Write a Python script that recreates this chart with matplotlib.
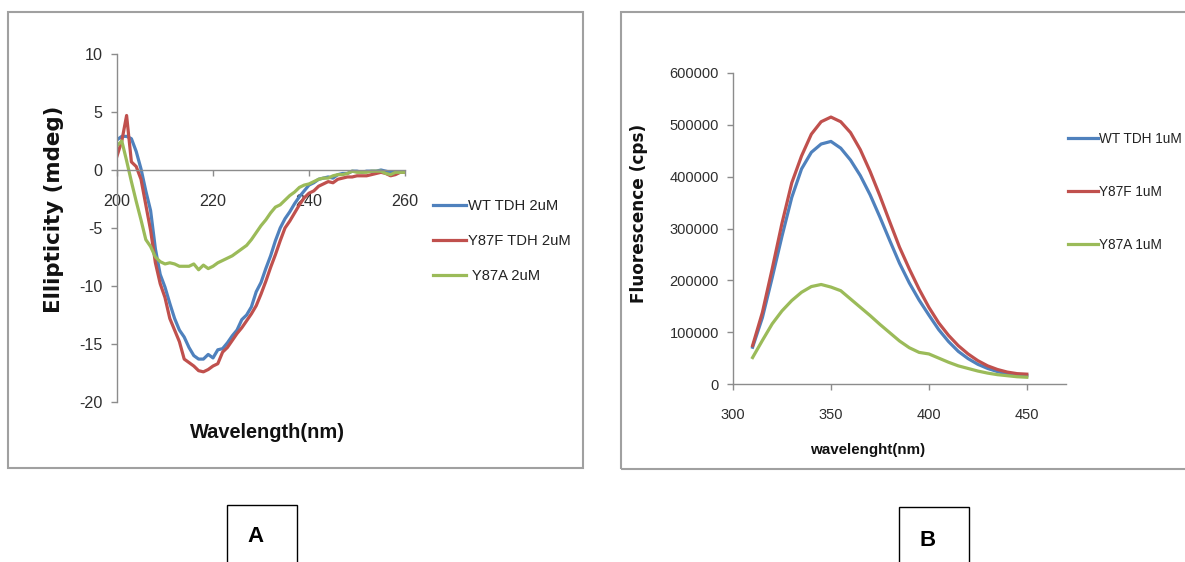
import matplotlib
matplotlib.use("Agg")
import matplotlib.pyplot as plt
from matplotlib.patches import Rectangle

plt.rcParams["axes.unicode_minus"] = False

# ---------------- data: panel A (CD spectra) ----------------
cd_wavelength = list(range(200, 261))
cd_wt = [2.6, 2.9, 2.9, 2.7, 1.6, 0.1, -1.8, -3.5, -6.8, -9.0,
         -10.1, -11.5, -12.8, -13.8, -14.4, -15.3, -16.0, -16.3, -16.3, -15.9,
         -16.2, -15.5, -15.4, -14.9, -14.3, -13.8, -12.9, -12.5, -11.8, -10.5,
         -9.7, -8.5, -7.4, -6.1, -5.0, -4.2, -3.6, -2.9, -2.3, -1.8,
         -1.3, -1.1, -0.8, -0.7, -0.6, -0.7, -0.4, -0.3, -0.3, -0.1,
         -0.1, -0.2, -0.1, -0.1, -0.1, 0.0, -0.1, -0.2, -0.2, -0.2, -0.2]
cd_y87f = [1.2, 2.5, 4.7, 0.7, 0.3, -0.8, -3.0, -5.2, -8.0, -9.8,
           -11.0, -12.8, -13.8, -14.8, -16.3, -16.6, -16.9, -17.3, -17.4, -17.2,
           -16.9, -16.7, -15.7, -15.3, -14.7, -14.1, -13.6, -13.0, -12.4, -11.7,
           -10.7, -9.6, -8.4, -7.3, -6.1, -5.0, -4.4, -3.7, -3.0, -2.4,
           -2.0, -1.8, -1.4, -1.2, -1.0, -1.1, -0.8, -0.7, -0.6, -0.6,
           -0.5, -0.5, -0.5, -0.4, -0.3, -0.2, -0.3, -0.5, -0.4, -0.2, -0.2]
cd_y87a = [2.1, 2.5, 0.8, -1.0, -2.7, -4.3, -6.0, -6.6, -7.5, -7.9,
           -8.1, -8.0, -8.1, -8.3, -8.3, -8.3, -8.1, -8.6, -8.2, -8.5,
           -8.3, -8.0, -7.8, -7.6, -7.4, -7.1, -6.8, -6.5, -6.0, -5.4,
           -4.8, -4.3, -3.7, -3.2, -3.0, -2.6, -2.2, -1.9, -1.5, -1.3,
           -1.2, -1.0, -0.8, -0.7, -0.7, -0.5, -0.4, -0.4, -0.3, -0.1,
           -0.2, -0.2, -0.2, -0.1, -0.1, -0.1, -0.3, -0.4, -0.2, -0.2, -0.2]
cd_labels = ["WT TDH 2uM", "Y87F TDH 2uM", " Y87A 2uM"]
cd_xticks = [200, 220, 240, 260]
cd_yticks = [-20, -15, -10, -5, 0, 5, 10]

# ---------------- data: panel B (fluorescence) ----------------
fl_wavelength = [310, 315, 320, 325, 330, 335, 340, 345, 350, 355,
                 360, 365, 370, 375, 380, 385, 390, 395, 400, 405,
                 410, 415, 420, 425, 430, 435, 440, 445, 450]
fl_wt = [71000, 128000, 205000, 285000, 360000, 415000, 447000, 463000, 468000, 455000,
         432000, 402000, 365000, 322000, 277000, 233000, 195000, 162000, 133000, 105000,
         82000, 63000, 49000, 38000, 30000, 24000, 19000, 17000, 16000]
fl_y87f = [74000, 138000, 222000, 310000, 388000, 440000, 482000, 506000, 515000, 506000,
           485000, 452000, 410000, 363000, 313000, 264000, 222000, 183000, 148000, 118000,
           94000, 74000, 58000, 45000, 35000, 28000, 23000, 20000, 19000]
fl_y87a = [51000, 84000, 116000, 141000, 161000, 177000, 188000, 192000, 187000, 180000,
           164000, 148000, 132000, 115000, 99000, 83000, 70000, 61000, 58000, 50000,
           42000, 35000, 30000, 25000, 21000, 18000, 16000, 14000, 13000]
fl_labels = ["WT TDH 1uM", "Y87F 1uM", "Y87A 1uM"]
fl_xticks = [300, 350, 400, 450]
fl_yticks = [0, 100000, 200000, 300000, 400000, 500000, 600000]

colors = ["#4F81BD", "#C0504D", "#9BBB59"]

W, H = 1185, 562
fig = plt.figure(figsize=(W / 100, H / 100), dpi=100)
fig.patch.set_facecolor("white")

tick_col = "#2e2e2e"
spine_col = "#8c8c8c"
sans = ["Liberation Sans", "DejaVu Sans"]


def fx(px):
    return px / W


def fy(py):
    return 1 - py / H


# ---------------- panel A ----------------
axA = fig.add_axes([fx(117), fy(402), (405 - 117) / W, (402 - 54) / H])
for vals, c, lab in zip([cd_wt, cd_y87f, cd_y87a], colors, cd_labels):
    axA.plot(cd_wavelength, vals, color=c, lw=2.3, label=lab, solid_joinstyle="round")
axA.set_xlim(200, 260)
axA.set_ylim(-20, 10)
axA.set_xticks(cd_xticks)
axA.set_yticks(cd_yticks)
axA.spines["top"].set_visible(False)
axA.spines["right"].set_visible(False)
axA.spines["bottom"].set_position(("data", 0))
for s in ("left", "bottom"):
    axA.spines[s].set_color(spine_col)
    axA.spines[s].set_linewidth(1.0)
axA.tick_params(axis="both", direction="out", length=4, width=1.0, color=spine_col,
                labelcolor=tick_col)
axA.tick_params(axis="y", pad=6.5, labelsize=11.6)
axA.tick_params(axis="x", pad=13.5, labelsize=11.6)
for t in axA.get_xticklabels() + axA.get_yticklabels():
    t.set_family(sans)
axA.set_ylabel("Ellipticity (mdeg)", family="DejaVu Sans", fontweight="bold",
               fontsize=15.4, color="#111111", va="center")
axA.yaxis.set_label_coords((54 - 117) / 288, (402 - 209) / 348)
axA.set_xlabel("Wavelength(nm)", family=sans, fontweight="bold", fontsize=14.4,
               color="#111111", va="center")
axA.xaxis.set_label_coords((267 - 117) / 288, (402 - 433) / 348)
legA = axA.legend(loc="center left", bbox_to_anchor=(fx(433), fy(241)),
                  bbox_transform=fig.transFigure, frameon=False, borderpad=0,
                  borderaxespad=0, handlelength=2.25, handletextpad=0.1,
                  labelspacing=1.45, prop={"family": sans, "size": 10.6})
for t in legA.get_texts():
    t.set_color("#222222")

# ---------------- panel B ----------------
axB = fig.add_axes([fx(733), fy(384), (1066 - 733) / W, (384 - 73) / H])
for vals, c, lab in zip([fl_wt, fl_y87f, fl_y87a], colors, fl_labels):
    axB.plot(fl_wavelength, vals, color=c, lw=2.3, label=lab, solid_joinstyle="round")
axB.set_xlim(300, 470)
axB.set_ylim(0, 600000)
axB.set_xticks(fl_xticks)
axB.set_yticks(fl_yticks)
axB.set_yticklabels([str(v) for v in fl_yticks])
axB.spines["top"].set_visible(False)
axB.spines["right"].set_visible(False)
for s in ("left", "bottom"):
    axB.spines[s].set_color(spine_col)
    axB.spines[s].set_linewidth(1.0)
axB.tick_params(axis="both", direction="out", length=4, width=1.0, color=spine_col,
                labelcolor=tick_col, labelsize=10.5)
axB.tick_params(axis="y", pad=6)
axB.tick_params(axis="x", pad=13)
for t in axB.get_xticklabels() + axB.get_yticklabels():
    t.set_family(sans)
axB.set_ylabel("Fluorescence (cps)", family="DejaVu Sans", fontweight="bold",
               fontsize=12.2, color="#111111", va="center")
axB.yaxis.set_label_coords((639 - 733) / 333, (384 - 213) / 311)
axB.set_xlabel("wavelenght(nm)", family=sans, fontweight="bold", fontsize=10.9,
               color="#111111", va="center")
axB.xaxis.set_label_coords((868 - 733) / 333, (384 - 450) / 311)
legB = axB.legend(loc="center left", bbox_to_anchor=(fx(1068), fy(192)),
                  bbox_transform=fig.transFigure, frameon=False, borderpad=0,
                  borderaxespad=0, handlelength=2.2, handletextpad=0.05,
                  labelspacing=2.85, prop={"family": sans, "size": 9.8})
for t in legB.get_texts():
    t.set_color("#222222")

# ---------------- frames and panel letters ----------------
fig.add_artist(Rectangle((fx(8), fy(468)), (583 - 8) / W, (468 - 12) / H,
                         transform=fig.transFigure, fill=False,
                         edgecolor="#a0a0a0", linewidth=1.5))
fig.add_artist(Rectangle((fx(621), fy(469)), (1200 - 621) / W, (469 - 12) / H,
                         transform=fig.transFigure, fill=False,
                         edgecolor="#a0a0a0", linewidth=1.5))
fig.add_artist(Rectangle((fx(227), fy(575)), (297 - 227) / W, (575 - 505) / H,
                         transform=fig.transFigure, fill=False,
                         edgecolor="black", linewidth=1.0))
fig.add_artist(Rectangle((fx(899), fy(575)), (969 - 899) / W, (575 - 507) / H,
                         transform=fig.transFigure, fill=False,
                         edgecolor="black", linewidth=1.0))
fig.text(fx(256), fy(537), "A", ha="center", va="center", fontsize=16,
         fontweight="bold", family=sans)
fig.text(fx(928), fy(540), "B", ha="center", va="center", fontsize=16,
         fontweight="bold", family=sans)

fig.savefig("out.png", dpi=100, facecolor="white")
